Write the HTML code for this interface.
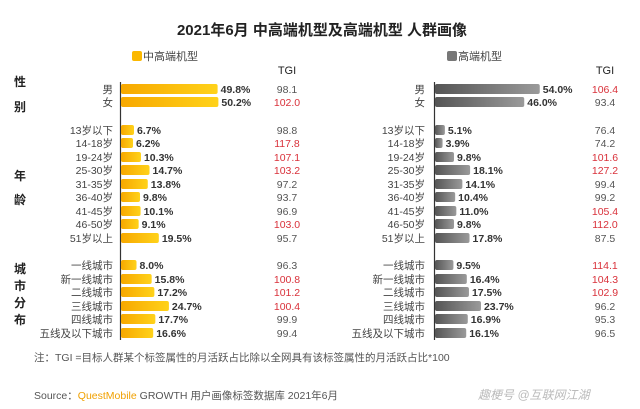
<!DOCTYPE html>
<html><head><meta charset="utf-8"><style>
body{margin:0;background:#fff;}
svg{display:block;font-family:"Liberation Sans","Noto Sans CJK SC",sans-serif;}
</style></head><body>
<svg id="c" width="640" height="409" viewBox="0 0 640 409">
<defs>
<linearGradient id="gy" x1="0" x2="1"><stop offset="0" stop-color="#f7a800"/><stop offset="1" stop-color="#ffd21a"/></linearGradient>
<linearGradient id="gg" x1="0" x2="1"><stop offset="0" stop-color="#555"/><stop offset="1" stop-color="#9a9a9a"/></linearGradient>
</defs>
<rect width="640" height="409" fill="#fff"/>
<text x="322" y="35" text-anchor="middle" font-size="15" font-weight="bold" fill="#222">2021年6月 中高端机型及高端机型 人群画像</text>
<rect x="132" y="51" width="10" height="10" rx="2" fill="#fbb800"/>
<text x="143" y="60" font-size="11" fill="#444">中高端机型</text>
<rect x="447" y="51" width="10" height="10" rx="2" fill="#777"/>
<text x="458" y="60" font-size="11" fill="#444">高端机型</text>
<text x="287" y="74" text-anchor="middle" font-size="11" fill="#222">TGI</text>
<text x="605" y="74" text-anchor="middle" font-size="11" fill="#222">TGI</text>
<g font-size="12" font-weight="bold" fill="#222" text-anchor="middle">
<text x="20" y="86">性</text><text x="20" y="111">别</text>
<text x="20" y="180">年</text><text x="20" y="204">龄</text>
<text x="20" y="273">城</text><text x="20" y="290">市</text><text x="20" y="307">分</text><text x="20" y="324">布</text>
</g>
<line x1="120.5" y1="82" x2="120.5" y2="340" stroke="#333" stroke-width="1.2"/>
<line x1="434.5" y1="82" x2="434.5" y2="340" stroke="#333" stroke-width="1.2"/>
<g id="bars"></g>
<text x="34" y="361" font-size="10.5" fill="#555">注：TGI =目标人群某个标签属性的月活跃占比除以全网具有该标签属性的月活跃占比*100</text>
<text x="34" y="399" font-size="10.5" fill="#555">Source：<tspan fill="#f0a000">QuestMobile</tspan> GROWTH 用户画像标签数据库 2021年6月</text>
<text x="478" y="399" font-size="12" font-style="italic" fill="#bbb">趣梗号 @互联网江湖</text>
</svg>
<script>
const categories=["男","女","13岁以下","14-18岁","19-24岁","25-30岁","31-35岁","36-40岁","41-45岁","46-50岁","51岁以上","一线城市","新一线城市","二线城市","三线城市","四线城市","五线及以下城市"];
const rowY=[89,102,130,143,157,170,184,197,211,224,238,265,279,292,306,319,333];
const midValues=[49.8,50.2,6.7,6.2,10.3,14.7,13.8,9.8,10.1,9.1,19.5,8.0,15.8,17.2,24.7,17.7,16.6];
const midTgi=[98.1,102.0,98.8,117.8,107.1,103.2,97.2,93.7,96.9,103.0,95.7,96.3,100.8,101.2,100.4,99.9,99.4];
const highValues=[54.0,46.0,5.1,3.9,9.8,18.1,14.1,10.4,11.0,9.8,17.8,9.5,16.4,17.5,23.7,16.9,16.1];
const highTgi=[106.4,93.4,76.4,74.2,101.6,127.2,99.4,99.2,105.4,112.0,87.5,114.1,104.3,102.9,96.2,95.3,96.5];
const NS="http://www.w3.org/2000/svg";
const g=document.getElementById('bars');
const xs=v=>v*1.94;
function mk(tag,at,txt){const e=document.createElementNS(NS,tag);for(const k in at)e.setAttribute(k,at[k]);if(txt!=null)e.textContent=txt;g.appendChild(e);return e;}
function panel(x0,labelX,tgiX,vals,tgis,fill,key){
 categories.forEach((c,i)=>{
  const y=rowY[i];
  const l=mk('text',{x:labelX,y:y+4,'text-anchor':'end','font-size':10.5,fill:'#444'},c);
  
  
  const w=xs(vals[i]);
  const b=mk('rect',{x:x0+1,y:y-5,width:w,height:10,rx:2,fill:fill});
  
  
  const v=mk('text',{x:x0+w+4,y:y+4,'font-size':10.5,'font-weight':'bold',fill:'#333'},vals[i].toFixed(1)+'%');
  
  
  const t=mk('text',{x:tgiX,y:y+4,'text-anchor':'middle','font-size':10.5,fill:tgis[i]>100?'#d9313a':'#555'},tgis[i].toFixed(1));
  
  
 });
}
panel(120,113,287,midValues,midTgi,'url(#gy)','mid');
panel(434,425,605,highValues,highTgi,'url(#gg)','high');
</script>
</body></html>
